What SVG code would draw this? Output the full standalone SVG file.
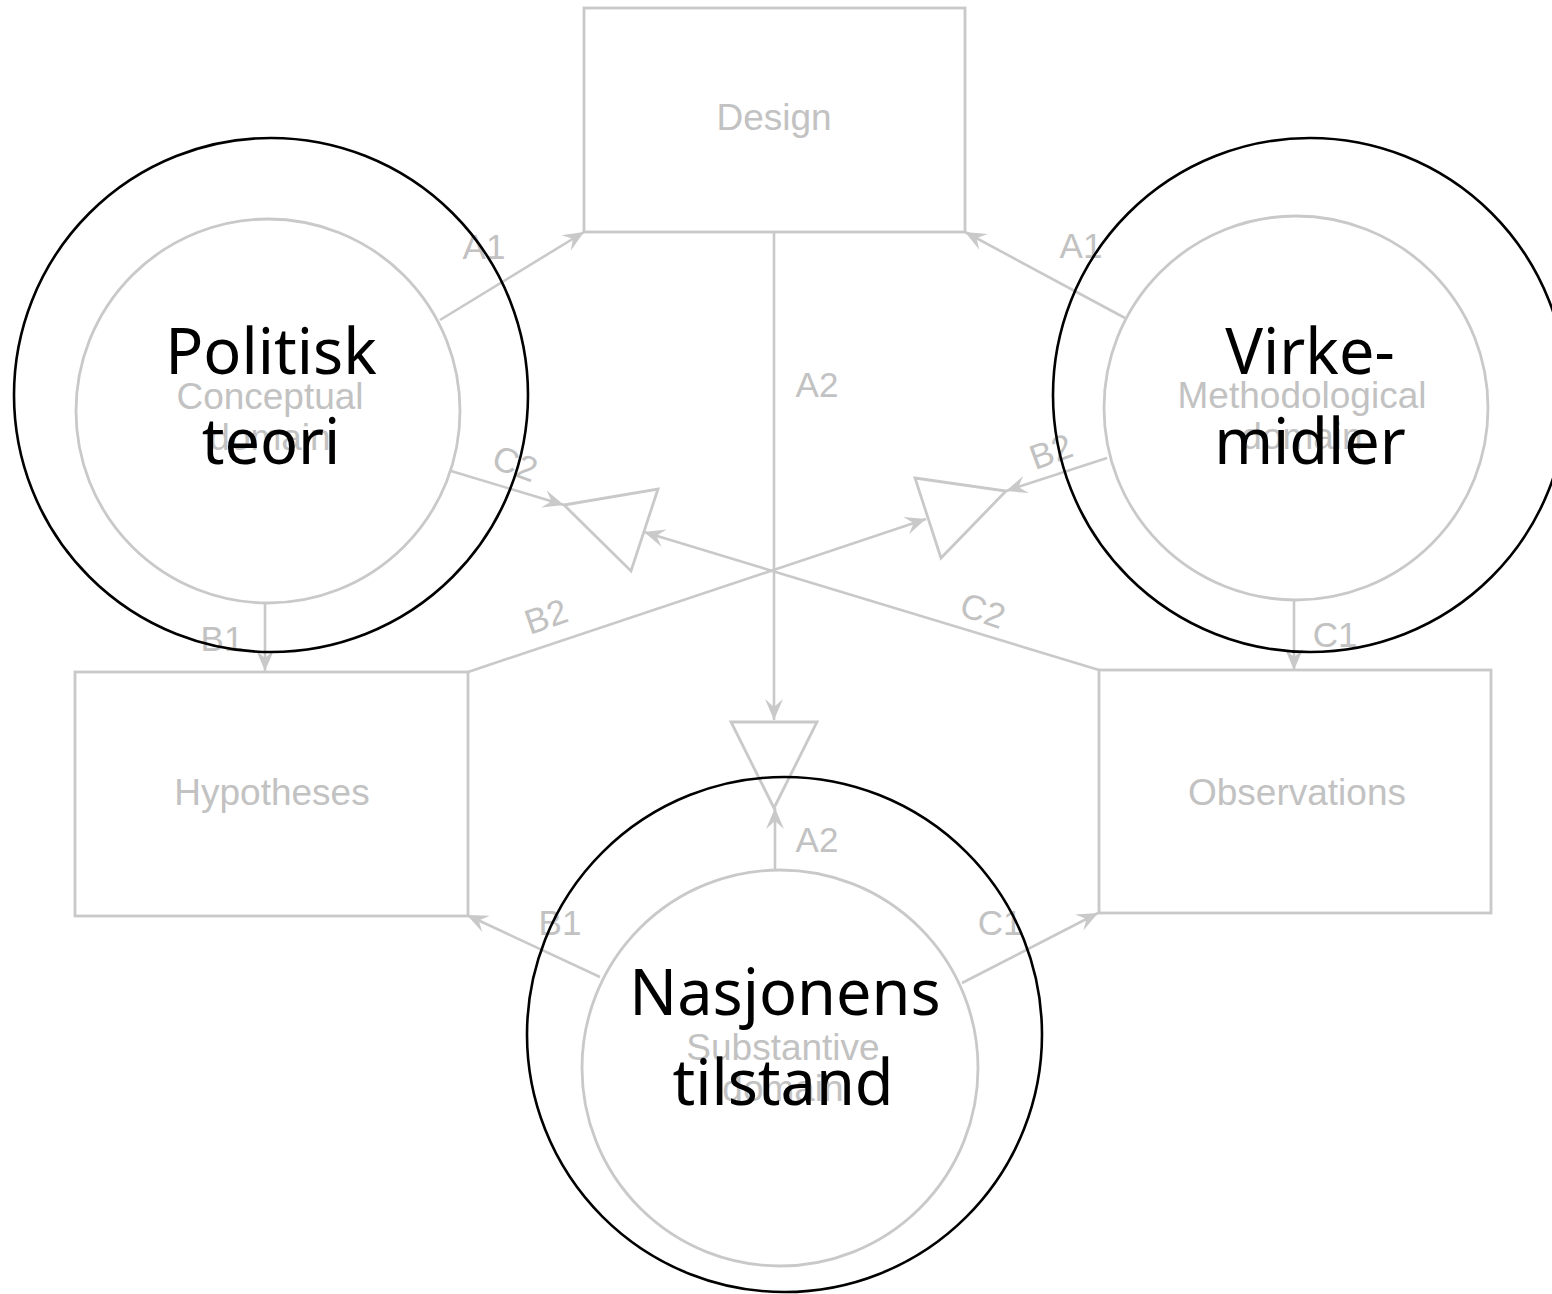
<svg xmlns="http://www.w3.org/2000/svg" width="1552" height="1294" viewBox="0 0 1552 1294">
  <style>
    .box { fill: none; stroke: #c9c9c9; stroke-width: 2.8; }
    .ring { fill: none; stroke: #c9c9c9; stroke-width: 2.8; }
    .tri { fill: none; stroke: #c9c9c9; stroke-width: 2.8; stroke-linejoin: miter; }
    .edge { fill: none; stroke: #c9c9c9; stroke-width: 2.6; }
    .glabel { font-family: "Liberation Sans", Arial, sans-serif; font-size: 37px; fill: #c2c2c2; text-anchor: middle; }
    .elabel { font-family: "Liberation Sans", Arial, sans-serif; font-size: 35px; fill: #c2c2c2; text-anchor: middle; }
    .overlay { fill: none; stroke: #000; stroke-width: 2.6; }
    .blabel { font-family: "Noto Sans", "Open Sans", sans-serif; font-size: 63px; fill: #000; text-anchor: middle; }
  </style>
  <defs>
    <!-- barbed arrowhead shared by every connector -->
    <marker id="arrow" viewBox="-22 -10 23 20" refX="0" refY="0" markerWidth="23" markerHeight="20" markerUnits="userSpaceOnUse" orient="auto">
      <path d="M0,0 L-21,-9 L-13,0 L-21,9 Z" fill="#c9c9c9"/>
    </marker>
  </defs>
  <rect width="1552" height="1294" fill="#fff"/>

  <!-- grey base diagram: boxes -->
  <g id="design">
    <rect class="box" x="584" y="8" width="381" height="224"/>
    <text class="glabel" x="774" y="130">Design</text>
  </g>
  <g id="hypotheses">
    <rect class="box" x="75" y="672" width="393" height="244"/>
    <text class="glabel" x="272" y="805">Hypotheses</text>
  </g>
  <g id="observations">
    <rect class="box" x="1099" y="670" width="392" height="243"/>
    <text class="glabel" x="1297" y="805">Observations</text>
  </g>

  <!-- grey base diagram: domains -->
  <g id="conceptual-domain">
    <circle class="ring" cx="268" cy="411" r="192"/>
    <text class="glabel" x="270" y="409">Conceptual</text>
    <text class="glabel" x="270" y="450">domain</text>
  </g>
  <g id="methodological-domain">
    <circle class="ring" cx="1296" cy="408" r="192"/>
    <text class="glabel" x="1302" y="408">Methodological</text>
    <text class="glabel" x="1302" y="449">domain</text>
  </g>
  <g id="substantive-domain">
    <circle class="ring" cx="780" cy="1068" r="198"/>
    <text class="glabel" x="783" y="1060">Substantive</text>
    <text class="glabel" x="783" y="1101">domain</text>
  </g>

  <!-- junction triangles -->
  <g id="junction-c">
    <polygon class="tri" points="564,505 658,489 631,571"/>
  </g>
  <g id="junction-b">
    <polygon class="tri" points="915,478 1006,491 941,558"/>
  </g>
  <g id="junction-a">
    <polygon class="tri" points="731,722 817,722 774,808"/>
  </g>

  <!-- connectors -->
  <g id="connectors">
    <path class="edge" d="M440,320 L584,232" marker-end="url(#arrow)"/>
    <path class="edge" d="M1125,318 L965,232" marker-end="url(#arrow)"/>
    <path class="edge" d="M774,232 L774,720" marker-end="url(#arrow)"/>
    <path class="edge" d="M775,870 L775,808" marker-end="url(#arrow)"/>
    <path class="edge" d="M265,603 L265,671" marker-end="url(#arrow)"/>
    <path class="edge" d="M1294,600 L1294,670" marker-end="url(#arrow)"/>
    <path class="edge" d="M600,977 L467,915" marker-end="url(#arrow)"/>
    <path class="edge" d="M962,983 L1098,913" marker-end="url(#arrow)"/>
    <path class="edge" d="M468,672 L926,519" marker-end="url(#arrow)"/>
    <path class="edge" d="M1099,670 L644,532" marker-end="url(#arrow)"/>
    <path class="edge" d="M451,471 L564,505" marker-end="url(#arrow)"/>
    <path class="edge" d="M1107,458 L1006,491" marker-end="url(#arrow)"/>

    <text class="elabel" x="484" y="259">A1</text>
    <text class="elabel" x="1081" y="258">A1</text>
    <text class="elabel" x="817" y="397">A2</text>
    <text class="elabel" x="817" y="852">A2</text>
    <text class="elabel" x="222" y="651">B1</text>
    <text class="elabel" x="1335" y="647">C1</text>
    <text class="elabel" x="560" y="935">B1</text>
    <text class="elabel" x="1000" y="935">C1</text>
    <text class="elabel" transform="translate(511,475) rotate(20)">C2</text>
    <text class="elabel" transform="translate(1055,463) rotate(-20)">B2</text>
    <text class="elabel" transform="translate(550,628) rotate(-19)">B2</text>
    <text class="elabel" transform="translate(979,622) rotate(19)">C2</text>
  </g>

  <!-- overlay circles with new labels -->
  <g id="politisk-teori">
    <circle class="overlay" cx="271" cy="395" r="257"/>
    <text class="blabel" x="271" y="374">Politisk</text>
    <text class="blabel" x="271" y="464">teori</text>
  </g>
  <g id="virkemidler">
    <circle class="overlay" cx="1310" cy="395" r="257"/>
    <text class="blabel" x="1310" y="374">Virke-</text>
    <text class="blabel" x="1310" y="464">midler</text>
  </g>
  <g id="nasjonens-tilstand">
    <circle class="overlay" cx="784.5" cy="1034.5" r="257.5"/>
    <text class="blabel" x="785" y="1015">Nasjonens</text>
    <text class="blabel" x="783" y="1105">tilstand</text>
  </g>
</svg>
